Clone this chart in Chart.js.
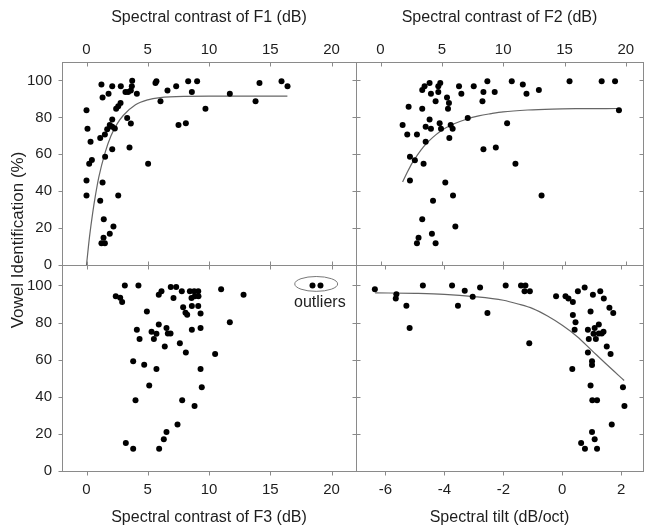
<!DOCTYPE html>
<html lang="en">
<head>
<meta charset="UTF-8">
<title>Vowel identification vs spectral cues</title>
<script src="https://cdn.jsdelivr.net/npm/chart.js"></script>
<style>
  body { margin: 0; background: #fff; }
  #wrap { position: relative; width: 647px; height: 531px; }
  #wrap canvas { position: absolute; left: 0; top: 0; }
</style>
</head>
<body>
<div id="wrap">
  <canvas id="f1Chart" width="647" height="531"></canvas>
  <canvas id="f2Chart" width="647" height="531"></canvas>
  <canvas id="f3Chart" width="647" height="531"></canvas>
  <canvas id="tiltChart" width="647" height="531"></canvas>
</div>
<script>
// tick values
const contrastTicks = [0, 5, 10, 15, 20];
const tiltTicks = [-6, -4, -2, 0, 2];
const identTicks = [0, 20, 40, 60, 80, 100];

// F1 panel
const f1Contrast = [0, 0.08, 0.33, 0.44, 0.22, 0, 0, 1.22, 1.31, 1.8, 2.1, 2.8, 3.73, 3.7, 3.62, 3.18, 3.4, 4.11, 2.78, 2.59,
  2.42, 3.32, 3.62, 2.1, 1.9, 2.1, 2.31, 1.69, 1.5, 1.12, 2.1, 3.51, 1.52, 1.31, 1.12, 2.59, 1.41, 2.2, 1.9, 1.39,
  1.22, 1.5, 5.03, 5.63, 5.71, 6.04, 6.61, 7.32, 8.3, 9.03, 8.6, 7.51, 8.11, 9.71, 11.7, 13.8, 14.12, 15.92, 16.41];
const f1Ident = [83.8, 73.8, 66.8, 56.9, 54.8, 45.8, 37.7, 97.8, 90.8, 92.8, 96.9, 96.9, 99.8, 96.8, 94.6, 93.7, 93.7, 92.8, 87.8, 86,
  84.7, 79.7, 76.7, 78.8, 75.8, 74.9, 74, 73.6, 70.7, 68.8, 62.7, 63.7, 58.7, 44.7, 34.8, 37.7, 24.8, 20.8, 16.9, 14.7,
  11.8, 11.8, 54.8, 98.6, 99.6, 88.7, 94.6, 96.8, 99.6, 99.6, 93.7, 75.8, 76.8, 84.7, 92.8, 88.7, 98.6, 99.6, 96.8];
const f1FitX = [0, 0.25, 0.5, 0.75, 1, 1.5, 2, 2.5, 3, 4, 5, 6, 8, 10, 13, 16.4];
const f1FitY = [0, 15.5, 28, 38.5, 47.5, 60.5, 70, 76.5, 81, 86.8, 89.5, 90.7, 91.4, 91.5, 91.5, 91.5];

// F2 panel
const f2Contrast = [1.8, 2.18, 2.29, 2.4, 2.4, 2.8, 2.97, 2.97, 3.1, 3.4, 3.4, 3.4, 3.59, 3.51, 3.68, 3.68, 4.0, 4.11, 4.0, 4.11,
  4.28, 4.19, 4.49, 4.49, 4.71, 4.71, 4.87, 4.82, 4.93, 5.42, 5.58, 5.5, 5.61, 5.72, 5.88, 5.28, 5.91, 6.1, 6.4, 6.59,
  7.11, 7.6, 8.31, 8.39, 8.71, 8.39, 9.31, 9.4, 10.32, 10.7, 11.0, 11.6, 11.9, 12.91, 13.13, 15.41, 18.03, 19.12, 19.44];
const f2Ident = [75.8, 70.7, 85.8, 58.7, 45.8, 56.7, 70.7, 11.8, 14.7, 24.8, 84.7, 94.8, 96.8, 54.8, 66.8, 74.9, 78.8, 73.8, 98.6, 92.8,
  34.8, 16.9, 11.8, 88.7, 93.7, 96.8, 98.6, 76.8, 73.8, 90.8, 87.8, 84.7, 68.8, 75.8, 73.8, 44.7, 37.7, 20.8, 96.8, 92.8,
  79.7, 96.8, 88.7, 93.7, 99.6, 62.7, 93.7, 63.7, 76.8, 99.6, 54.8, 97.8, 92.8, 94.8, 37.7, 99.6, 99.6, 99.6, 83.8];
const f2FitX = [1.8, 2.2, 2.6, 3, 3.5, 4, 4.5, 5, 6, 7, 8, 9, 10, 12, 14, 16, 19.4];
const f2FitY = [45, 50.5, 55.5, 59.5, 64, 67.5, 70.5, 73, 76.5, 79, 80.8, 82, 83, 84, 84.5, 84.7, 84.8];

// F3 panel (last two are the outliers)
const f3Contrast = [2.39, 2.75, 2.91, 3.13, 4.24, 4.93, 4.11, 4.33, 3.81, 4.71, 4.0, 5.12, 3.21, 3.81, 5.93, 6.31, 6.53, 7.43, 5.71, 5.31,
  5.5, 5.71, 5.9, 5.9, 6.12, 6.39, 6.53, 6.64, 6.86, 6.88, 7.32, 7.1, 7.78, 7.62, 7.89, 8.08, 8.22, 8.11, 7.81, 8.82,
  8.44, 8.79, 9.12, 8.57, 8.84, 9.14, 8.6, 9.12, 9.31, 8.6, 9.31, 9.31, 9.41, 10.5, 10.99, 11.7, 12.82, 18.45, 19.1];
const f3Ident = [94.1, 93.4, 91.0, 100, 100, 86.0, 76.1, 71.1, 59.1, 57.3, 38.1, 46.1, 15.1, 12.0, 12.0, 17.1, 21.0, 25.0, 54.9, 75.0,
  71.1, 74.0, 79.0, 95.0, 96.9, 67.1, 77.0, 74.1, 74.1, 99.1, 99.1, 93.2, 96.9, 68.9, 88.2, 85.3, 84.2, 63.9, 38.1, 35.0,
  96.9, 96.9, 96.9, 93.2, 94.1, 94.1, 88.9, 88.9, 84.9, 76.1, 77.0, 54.9, 45.1, 63.0, 98.0, 80.1, 95.0, 100, 100];

// spectral tilt panel
const tiltSlope = [-6.36, -5.63, -5.65, -5.29, -5.18, -4.73, -3.74, -3.54, -3.31, -3.04, -2.79, -2.54, -1.92, -1.4, -1.25, -1.28, -1.1, -1.12, -0.21, 0.11,
  0.21, 0.36, 0.36, 0.45, 0.42, 0.34, 0.53, 0.76, 0.96, 0.87, 0.9, 0.87, 1.01, 1.01, 0.96, 1.02, 1.18, 1.01, 1.1, 0.64,
  0.77, 1.18, 1.04, 1.1, 1.06, 1.14, 1.24, 1.24, 1.34, 1.4, 1.29, 1.41, 1.6, 1.73, 1.51, 1.64, 1.68, 2.06, 2.11];
const tiltIdent = [98.0, 95.2, 93.0, 89.0, 77.0, 100, 100, 89.0, 97.1, 93.9, 98.9, 85.1, 100, 100, 100, 96.9, 96.9, 68.9, 94.1, 94.1,
  93.0, 91.0, 84.0, 80.1, 76.1, 54.9, 96.9, 98.9, 86.0, 76.1, 71.1, 63.9, 59.1, 57.1, 46.1, 38.1, 38.1, 21.0, 17.1, 15.1,
  12.0, 12.0, 95.0, 77.0, 74.0, 71.1, 79.0, 74.1, 74.1, 75.0, 96.9, 93.0, 88.0, 85.1, 67.1, 63.0, 25.0, 45.1, 35.0];
const tiltFitX = [-6.35, -5, -4, -3, -2, -1.5, -1, -0.5, 0, 0.5, 1, 1.5, 2.1];
const tiltFitY = [96, 95.7, 95.2, 94, 92, 90, 87.5, 83.5, 78.5, 72.5, 65, 57.5, 48.8];

const FONT = 'Arial, "Liberation Sans", Helvetica, sans-serif';
const INK = '#1e1e1e';
const AXIS = '#8a8a8a';
const CURVE = '#666';

const pts = (xs, ys) => xs.map((x, i) => ({ x: x, y: ys[i] }));

// box around each panel + small tick marks on all four sides
const framePlugin = {
  id: 'frame',
  afterDraw(chart, args, o) {
    const { ctx, chartArea: a, scales } = chart;
    const L = 4;
    const l = Math.round(a.left) + 0.5, r = Math.round(a.right) + 0.5;
    const t = Math.round(a.top) + 0.5, b = Math.round(a.bottom) + 0.5;
    ctx.save();
    ctx.strokeStyle = AXIS;
    ctx.lineWidth = 1;
    ctx.strokeRect(l, t, r - l, b - t);
    ctx.beginPath();
    o.xTicks.forEach(v => {
      const px = Math.round(scales.x.getPixelForValue(v)) + 0.5;
      ctx.moveTo(px, t); ctx.lineTo(px, t + L);
      if (o.xPos === 'bottom') { ctx.moveTo(px, b); ctx.lineTo(px, b + L); }
      else { ctx.moveTo(px, b); ctx.lineTo(px, b - L); }
    });
    o.yTicks.forEach(v => {
      const py = Math.round(scales.y.getPixelForValue(v)) + 0.5;
      if (o.yLabels) { ctx.moveTo(l, py); ctx.lineTo(l - L, py); }
      else { ctx.moveTo(l, py); ctx.lineTo(l + L, py); }
      ctx.moveTo(r, py); ctx.lineTo(r - L, py);
    });
    ctx.stroke();
    ctx.restore();
  }
};

function panel(id, c) {
  const datasets = [{ data: pts(c.xs, c.ys), backgroundColor: '#000', borderWidth: 0, pointRadius: 3 }];
  if (c.fitX) {
    datasets.push({ data: pts(c.fitX, c.fitY), showLine: true, borderColor: CURVE, borderWidth: 1.2,
      pointRadius: 0, cubicInterpolationMode: 'monotone' });
  }
  return new Chart(document.getElementById(id), {
    type: 'scatter',
    data: { datasets: datasets },
    options: {
      responsive: false,
      animation: false,
      events: [],
      layout: { padding: c.pad },
      plugins: {
        legend: { display: false },
        tooltip: { enabled: false },
        frame: { xTicks: c.xTicks, yTicks: identTicks, xPos: c.xPos, yLabels: c.yLabels }
      },
      scales: {
        x: {
          type: 'linear', position: c.xPos, min: c.xMin, max: c.xMax,
          afterBuildTicks: ax => { ax.ticks = c.xTicks.map(v => ({ value: v })); },
          afterFit: ax => { ax.height = c.xH; },
          grid: { display: false, drawTicks: false },
          border: { display: false },
          ticks: { color: INK, font: { family: FONT, size: 15 }, padding: c.xPos === 'top' ? 3 : 10, maxRotation: 0 },
          title: { display: true, text: c.title, color: INK, font: { family: FONT, size: 16 },
            padding: c.xPos === 'top' ? { top: 8, bottom: 0 } : { top: 0, bottom: 4 } }
        },
        y: {
          type: 'linear', display: c.yLabels, min: 0, max: c.yMax,
          afterBuildTicks: ax => { ax.ticks = identTicks.map(v => ({ value: v })); },
          afterFit: ax => { ax.width = c.yLabels ? 62 : 0; },
          grid: { display: false, drawTicks: false },
          border: { display: false },
          ticks: { color: INK, font: { family: FONT, size: 15 }, padding: 10 }
        }
      }
    },
    plugins: [framePlugin].concat(c.extra || [])
  });
}

// shared y-axis title, drawn once
const yTitlePlugin = {
  id: 'yTitle',
  afterDraw(chart) {
    const ctx = chart.ctx;
    ctx.save();
    ctx.translate(18, 240);
    ctx.rotate(-Math.PI / 2);
    ctx.fillStyle = INK;
    ctx.font = '17px ' + FONT;
    ctx.textAlign = 'center';
    ctx.textBaseline = 'middle';
    ctx.fillText('Vowel Identification (%)', 0, 0);
    ctx.restore();
  }
};

// ring + label around the two F3 outliers
const outlierPlugin = {
  id: 'outliers',
  afterDraw(chart) {
    const { ctx, scales } = chart;
    const cx = scales.x.getPixelForValue(18.75), cy = scales.y.getPixelForValue(100.8);
    const rx = scales.x.getPixelForValue(20.5) - cx, ry = scales.y.getPixelForValue(96.8) - cy;
    ctx.save();
    ctx.strokeStyle = '#777';
    ctx.lineWidth = 1;
    ctx.beginPath();
    ctx.ellipse(cx, cy, rx, ry, 0, 0, Math.PI * 2);
    ctx.stroke();
    ctx.fillStyle = INK;
    ctx.font = '16px ' + FONT;
    ctx.textAlign = 'center';
    ctx.textBaseline = 'middle';
    ctx.fillText('outliers', scales.x.getPixelForValue(19.05), scales.y.getPixelForValue(90.5));
    ctx.restore();
  }
};

panel('f1Chart', {
  xs: f1Contrast, ys: f1Ident, fitX: f1FitX, fitY: f1FitY,
  title: 'Spectral contrast of F1 (dB)', xPos: 'top', xMin: -2, xMax: 22, xTicks: contrastTicks, xH: 62,
  yLabels: true, yMax: 110, pad: { left: 0, top: 0, right: 291, bottom: 266 }, extra: [yTitlePlugin]
});
panel('f2Chart', {
  xs: f2Contrast, ys: f2Ident, fitX: f2FitX, fitY: f2FitY,
  title: 'Spectral contrast of F2 (dB)', xPos: 'top', xMin: -2, xMax: 21.4, xTicks: contrastTicks, xH: 62,
  yLabels: false, yMax: 110, pad: { left: 356, top: 0, right: 4, bottom: 266 }
});
panel('f3Chart', {
  xs: f3Contrast, ys: f3Ident,
  title: 'Spectral contrast of F3 (dB)', xPos: 'bottom', xMin: -2, xMax: 22, xTicks: contrastTicks, xH: 60,
  yLabels: true, yMax: 111, pad: { left: 0, top: 265, right: 291, bottom: 0 }, extra: [outlierPlugin]
});
panel('tiltChart', {
  xs: tiltSlope, ys: tiltIdent, fitX: tiltFitX, fitY: tiltFitY,
  title: 'Spectral tilt (dB/oct)', xPos: 'bottom', xMin: -7, xMax: 2.74, xTicks: tiltTicks, xH: 60,
  yLabels: false, yMax: 111, pad: { left: 356, top: 265, right: 4, bottom: 0 }
});
</script>
</body>
</html>
